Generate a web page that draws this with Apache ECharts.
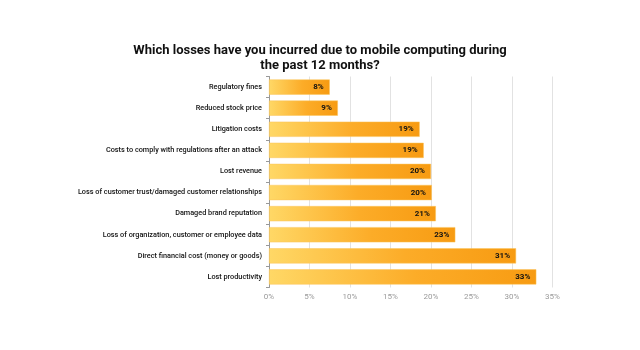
<!DOCTYPE html>
<html><head><meta charset="utf-8">
<script src="https://cdn.jsdelivr.net/npm/echarts@6/dist/echarts.min.js"></script>
<style>html,body{margin:0;padding:0;background:#fff}#c{width:640px;height:350px}</style>
</head><body><div id="c"></div>
<script>
const titleText = 'Which losses have you incurred due to mobile computing during\nthe past 12 months?';
const categories = [
  'Regulatory fines',
  'Reduced stock price',
  'Litigation costs',
  'Costs to comply with regulations after an attack',
  'Lost revenue',
  'Loss of customer trust/damaged customer relationships',
  'Damaged brand reputation',
  'Loss of organization, customer or employee data',
  'Direct financial cost (money or goods)',
  'Lost productivity'
];
const values = [7.5, 8.5, 18.6, 19.1, 20.0, 20.1, 20.6, 23.0, 30.5, 33.0];
const labels = ['8%', '9%', '19%', '19%', '20%', '20%', '21%', '23%', '31%', '33%'];

const chart = echarts.init(document.getElementById('c'), null, {renderer: 'canvas'});
const font = 'Roboto, "Liberation Sans", Arial, sans-serif';
chart.setOption({
  animation: false,
  title: {
    text: titleText, left: 'center', top: 38,
    textStyle: {fontFamily: font, fontWeight: 'bold', fontSize: 13, lineHeight: 15, color: '#111'}
  },
  grid: {left: 269, top: 76.5, width: 283.5, height: 211, containLabel: false},
  xAxis: {
    type: 'value', min: 0, max: 35, interval: 5,
    axisLine: {show: false}, axisTick: {show: false},
    splitLine: {lineStyle: {color: '#e2e2e2', width: 1}},
    axisLabel: {formatter: v => v + '%', color: '#9a9a9a', fontFamily: font, fontSize: 8, margin: 5}
  },
  yAxis: {
    type: 'category', data: categories, inverse: true,
    axisLine: {lineStyle: {color: '#999', width: 1}},
    axisTick: {show: true, length: 3, inside: false, lineStyle: {color: '#999'}},
    axisLabel: {color: '#111', fontFamily: font, fontWeight: 500, fontSize: 7.3, margin: 7}
  },
  series: [{
    type: 'bar', data: values, barWidth: '72%',
    itemStyle: {
      color: new echarts.graphic.LinearGradient(0, 0, 1, 0, [
        {offset: 0, color: '#ffd866'},
        {offset: 0.55, color: '#fcac28'},
        {offset: 1, color: '#f79b12'}
      ]),
      borderColor: '#fbc45a', borderWidth: 0.5
    },
    label: {
      show: true, position: 'insideRight', distance: 6,
      formatter: p => labels[p.dataIndex],
      color: '#111', fontWeight: 'bold', fontFamily: font, fontSize: 8
    }
  }]
});
</script></body></html>
